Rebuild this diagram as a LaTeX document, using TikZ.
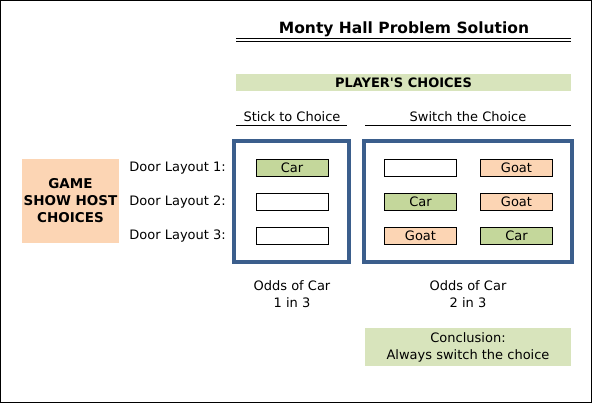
\documentclass[tikz,border=0pt]{standalone}
\usepackage{fontspec}
\setmainfont{DejaVu Sans}[Ligatures=TeXOff]
\usetikzlibrary{positioning}
\definecolor{bandgreen}{RGB}{216,228,188}
\definecolor{cargreen}{RGB}{196,215,155}
\definecolor{goatpeach}{RGB}{252,213,180}
\definecolor{frameblue}{RGB}{59,94,140}
\begin{document}
\begin{tikzpicture}[
  x=1pt, y=-1pt,
  font=\fontsize{13}{17}\selectfont,
  band/.style={fill=bandgreen, minimum width=335pt, inner sep=0pt},
  cell/.style={draw=black, line width=0.8pt, minimum width=72pt, minimum height=17pt, inner sep=0pt},
  car/.style={cell, fill=cargreen},
  goat/.style={cell, fill=goatpeach},
  choicebox/.style={draw=frameblue, line width=3.5pt, inner sep=0pt},
  rowlabel/.style={anchor=east, inner sep=0pt},
  head/.style={inner sep=0pt}
]
\useasboundingbox (0,0) rectangle (592,403);
\draw[line width=1.4pt] (0.7,0.7) rectangle (591.3,402.3);

% Title with double rule
\node[head, font=\bfseries\fontsize{15.5}{18}\selectfont] (title) at (404,29) {Monty Hall Problem Solution};
\draw[line width=0.9pt] (236,38) -- (571,38);
\draw[line width=0.9pt] (236,41) -- (571,41);

\node[band, minimum height=17pt, font=\bfseries\fontsize{13}{15}\selectfont] (players) at (403.5,82.5) {PLAYER'S CHOICES};

% Column heads
\node[head] (stick) at (292,117) {Stick to Choice};
\draw[line width=0.7pt] (236,125.5) -- (347,125.5);
\node[head] (switch) at (468,117) {Switch the Choice};
\draw[line width=0.7pt] (365,125.5) -- (571,125.5);

% Host choices
\node[fill=goatpeach, minimum width=97pt, minimum height=84pt, align=center, inner sep=0pt,
  font=\bfseries\fontsize{13.5}{17}\selectfont] (host) at (70.5,201) {GAME\\SHOW HOST\\CHOICES};
\foreach \r/\y in {1/168,2/202,3/236}
  \node[rowlabel] (layout\r) at (226,\y) {Door Layout \r:};

% Frames
\node[choicebox, minimum width=115pt, minimum height=121pt] (stickbox) at (291.5,201.5) {};
\node[choicebox, minimum width=208pt, minimum height=121pt] (switchbox) at (468,201.5) {};

% Doors
\node[car] (s1) at (292,167.5) {Car};
\node[cell] (s2) at (292,201.5) {};
\node[cell] (s3) at (292,235.5) {};
\node[cell] (a1) at (420.5,167.5) {};
\node[car] (a2) at (420.5,201.5) {Car};
\node[goat] (a3) at (420.5,235.5) {Goat};
\node[goat] (b1) at (516.5,167.5) {Goat};
\node[goat] (b2) at (516.5,201.5) {Goat};
\node[car] (b3) at (516.5,235.5) {Car};

% Odds
\node[head, align=center] (odds1) at (292,294.5) {Odds of Car\\1 in 3};
\node[head, align=center] (odds2) at (468,294.5) {Odds of Car\\2 in 3};
\node[band, minimum width=206pt, minimum height=38pt, align=center] (concl) at (468,347) {Conclusion:\\Always switch the choice};
\end{tikzpicture}
\end{document}
